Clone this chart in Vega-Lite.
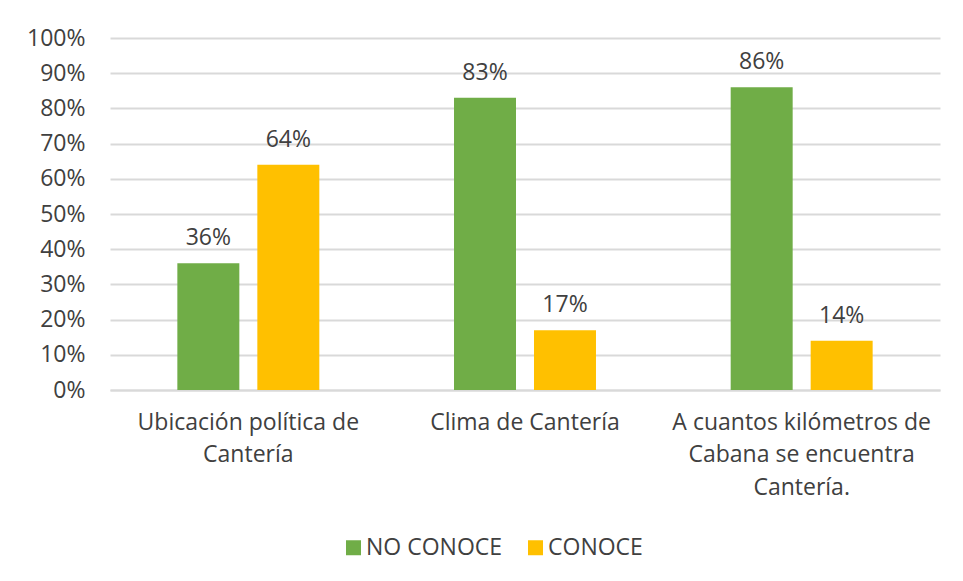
{
  "$schema": "https://vega.github.io/schema/vega-lite/v6.json",
  "autosize": "none",
  "width": 830,
  "height": 352,
  "padding": {"left": 110, "top": 38, "right": 23, "bottom": 191},
  "background": "white",
  "config": {
    "view": {"stroke": null},
    "font": "Open Sans",
    "axis": {"labelFont": "Open Sans", "labelColor": "#404040"},
    "legend": {"labelFont": "Open Sans"}
  },
  "data": {
    "values": [
      {"cat": "Ubicación política de|Cantería", "serie": "NO CONOCE", "valor": 0.36},
      {"cat": "Ubicación política de|Cantería", "serie": "CONOCE", "valor": 0.64},
      {"cat": "Clima de Cantería", "serie": "NO CONOCE", "valor": 0.83},
      {"cat": "Clima de Cantería", "serie": "CONOCE", "valor": 0.17},
      {"cat": "A cuantos kilómetros de|Cabana se encuentra|Cantería.", "serie": "NO CONOCE", "valor": 0.86},
      {"cat": "A cuantos kilómetros de|Cabana se encuentra|Cantería.", "serie": "CONOCE", "valor": 0.14}
    ]
  },
  "encoding": {
    "x": {
      "field": "cat", "type": "nominal", "sort": null, "title": null,
      "scale": {"paddingInner": 0, "paddingOuter": 0},
      "axis": {
        "labelAngle": 0, "labelFontSize": 23, "labelLineHeight": 32.5,
        "labelExpr": "split(datum.value, '|')", "labelPadding": 21,
        "ticks": false, "domainColor": "#d9d9d9", "domainWidth": 2,
        "labelColor": "#404040", "labelLimit": 300
      }
    },
    "xOffset": {
      "field": "serie", "type": "nominal", "sort": ["NO CONOCE", "CONOCE"],
      "scale": {"paddingInner": 0.225, "paddingOuter": 0.842}
    },
    "y": {
      "field": "valor", "type": "quantitative", "title": null,
      "scale": {"domain": [0, 1], "nice": false},
      "axis": {
        "format": ".0%", "values": [0, 0.1, 0.2, 0.3, 0.4, 0.5, 0.6, 0.7, 0.8, 0.9, 1],
        "labelOverlap": false, "labelFontSize": 23, "labelPadding": 25, "ticks": false, "domain": false,
        "gridColor": "#d9d9d9", "gridWidth": 2, "labelColor": "#404040"
      }
    }
  },
  "layer": [
    {
      "mark": {"type": "bar"},
      "encoding": {
        "color": {
          "field": "serie", "type": "nominal", "sort": ["NO CONOCE", "CONOCE"],
          "scale": {"domain": ["NO CONOCE", "CONOCE"], "range": ["#70AD47", "#FFC000"]},
          "legend": {
            "title": null, "orient": "none", "direction": "horizontal",
            "legendX": 232, "legendY": 498,
            "symbolType": "square", "symbolSize": 225, "symbolStrokeWidth": 0,
            "labelFontSize": 23, "labelColor": "#404040", "columnPadding": 21, "labelOffset": 1
          }
        }
      }
    },
    {
      "mark": {"type": "text", "dy": -25, "fontSize": 23, "color": "#404040", "baseline": "middle"},
      "encoding": {
        "text": {"field": "valor", "type": "quantitative", "format": ".0%"}
      }
    }
  ]
}
